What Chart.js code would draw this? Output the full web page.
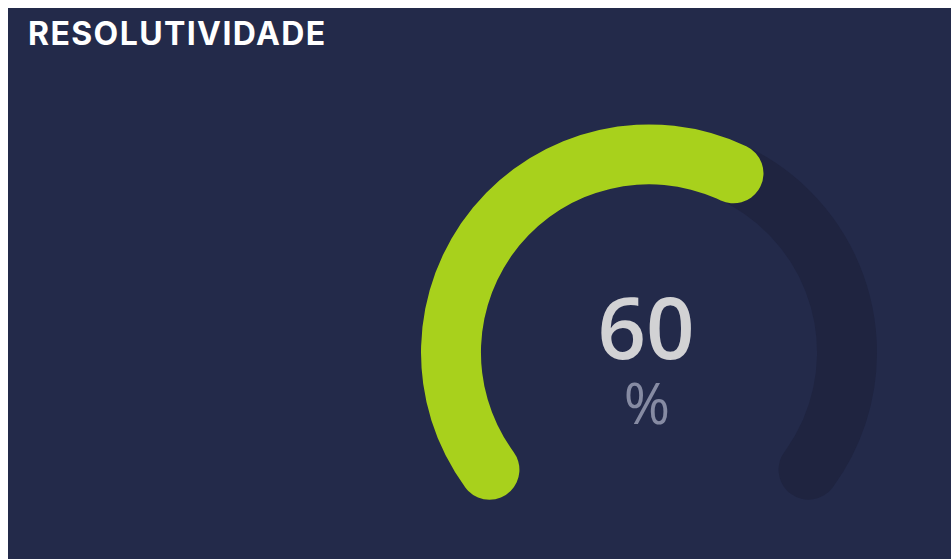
<!DOCTYPE html>
<html>
<head>
<meta charset="utf-8">
<script src="https://cdn.jsdelivr.net/npm/chart.js@4/dist/chart.umd.min.js"></script>
<style>
  html, body { margin: 0; padding: 0; background: #ffffff; }
  #panel {
    position: absolute; left: 8px; top: 8px; width: 943px; height: 551px;
    background: #232a4a; overflow: hidden;
  }
  #title {
    position: absolute; left: 20px; top: 10px;
    font-family: 'Inter', sans-serif; font-weight: 700; font-size: 32px; line-height: 1;
    letter-spacing: 1.4px; color: #ffffff; white-space: nowrap;
  }
  #gaugeBox { position: absolute; left: 413px; top: 110.6px; width: 456px; height: 400px; }
</style>
</head>
<body>
<div id="panel">
  <div id="title">RESOLUTIVIDADE</div>
  <div id="gaugeBox"><canvas id="gauge"></canvas></div>
</div>
<script>
// --- DATA ---
const gaugeValue = 60;      // percent shown in the middle
const gaugeMax = 100;
const gaugeUnit = '%';

const valueData = [gaugeValue, gaugeMax - gaugeValue];
const trackData = [gaugeMax];

document.addEventListener('DOMContentLoaded', () => {
    const ctx = document.getElementById('gauge').getContext('2d');

    new Chart(ctx, {
        type: 'doughnut',
        data: {
            datasets: [
                {   // value arc, drawn on top
                    data: valueData,
                    backgroundColor: ['#a8d11c', 'rgba(0,0,0,0)'],
                    borderWidth: 0,
                    borderRadius: 30
                },
                {   // background track
                    data: trackData,
                    backgroundColor: ['#1f2440'],
                    borderWidth: 0,
                    borderRadius: 30
                }
            ]
        },
        options: {
            responsive: true,
            maintainAspectRatio: false,
            animation: false,
            events: [],
            rotation: -135,
            circumference: 270,
            cutout: '73.7%',
            radius: 228,
            plugins: { legend: { display: false }, tooltip: { enabled: false } }
        },
        plugins: [{
            id: 'gaugeOverlay',
            // put both rings on the same radius so the value sits over the track,
            // and measure the value between the cap centres like a round-capped stroke
            afterDatasetsUpdate: (chart) => {
                const first = chart.getDatasetMeta(0).controller;
                const last = chart.getDatasetMeta(chart.data.datasets.length - 1).controller;
                const outer = first.outerRadius;
                const inner = last.innerRadius;
                chart.data.datasets.forEach((ds, i) => {
                    chart.getDatasetMeta(i).data.forEach((arc) => {
                        arc.outerRadius = outer;
                        arc.innerRadius = inner;
                    });
                });
                const track = chart.getDatasetMeta(1).data[0];
                const capAngle = ((outer - inner) / 2) / ((outer + inner) / 2);
                const span = track.endAngle - track.startAngle - 2 * capAngle;
                const [valueArc, restArc] = chart.getDatasetMeta(0).data;
                const end = track.startAngle + 2 * capAngle + span * (valueData[0] / gaugeMax);
                valueArc.startAngle = track.startAngle;
                valueArc.endAngle = end;
                valueArc.circumference = end - track.startAngle;
                restArc.startAngle = end;
                restArc.circumference = track.endAngle - end;
            },
            afterDraw: (chart) => {
                const { ctx } = chart;
                const arc = chart.getDatasetMeta(0).data[0];
                ctx.save();
                ctx.textAlign = 'center';
                ctx.textBaseline = 'alphabetic';
                ctx.fillStyle = '#d2d2d4';
                ctx.font = "600 85px 'Open Sans', sans-serif";
                ctx.fillText(String(gaugeValue), arc.x - 3, arc.y + 7);
                ctx.fillStyle = '#868ba3';
                ctx.font = "400 56px 'Open Sans', sans-serif";
                ctx.fillText(gaugeUnit, arc.x - 2, arc.y + 72);
                ctx.restore();
            }
        }]
    });
});
</script>
</body>
</html>
